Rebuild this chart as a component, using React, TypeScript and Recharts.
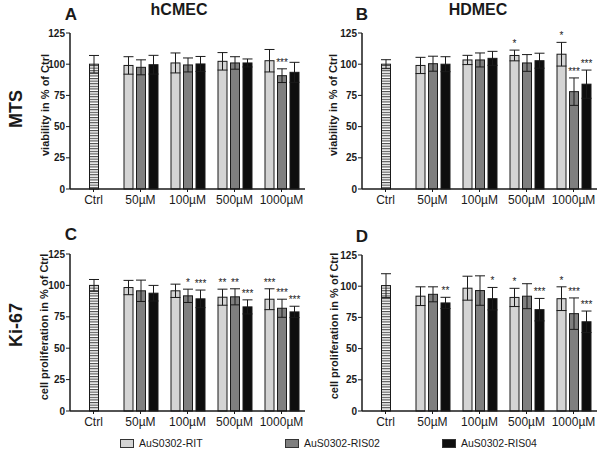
import React from 'react';
import { BarChart, Bar, XAxis, YAxis, ErrorBar, Cell } from 'recharts';

const categories = ['Ctrl', '50µM', '100µM', '500µM', '1000µM'];
const seriesNames = ['AuS0302-RIT', 'AuS0302-RIS02', 'AuS0302-RIS04'];
const seriesColors = ['#d4d4d4', '#7f7f7f', '#0e0e0e'];
const yTicks = [0, 25, 50, 75, 100, 125];

// A: hCMEC / MTS  (ctrl = [mean, sd])
const aCtrl = [100, 7];
const aRit = [99, 101, 102.3, 102.8];
const aRitErr = [7, 8, 7, 9];
const aRitSig = ['', '', '', ''];
const aRis02 = [97.5, 99.4, 101, 90.8];
const aRis02Err = [6, 5.6, 5, 5.5];
const aRis02Sig = ['', '', '', '***'];
const aRis04 = [99.6, 100.2, 101, 93.5];
const aRis04Err = [7.5, 6, 3.2, 8];
const aRis04Sig = ['', '', '', ''];

// B: HDMEC / MTS
const bCtrl = [100, 3.6];
const bRit = [99, 103.4, 107, 108];
const bRitErr = [6.5, 3.7, 4.3, 9.5];
const bRitSig = ['', '', '*', '*'];
const bRis02 = [100.4, 103.4, 101, 78];
const bRis02Err = [6, 5.6, 6.7, 11];
const bRis02Sig = ['', '', '', '***'];
const bRis04 = [100, 104.7, 102.8, 84];
const bRis04Err = [6, 5.6, 6, 11.3];
const bRis04Sig = ['', '', '', '***'];

// C: hCMEC / Ki-67
const cCtrl = [100, 4.7];
const cRit = [98.3, 95.7, 90.6, 89];
const cRitErr = [5.7, 5.3, 6.4, 8.3];
const cRitSig = ['', '', '**', '***'];
const cRis02 = [95.7, 91.7, 90.9, 81.8];
const cRis02Err = [8.5, 5.3, 6.4, 7.2];
const cRis02Sig = ['', '*', '**', '***'];
const cRis04 = [93.8, 89.3, 82.9, 78.9];
const cRis04Err = [6.2, 7, 5.6, 4.5];
const cRis04Sig = ['', '***', '***', '***'];

// D: HDMEC / Ki-67
const dCtrl = [100.5, 9.5];
const dRit = [92, 98.4, 91, 90];
const dRitErr = [7.5, 9.6, 7.3, 9.5];
const dRitSig = ['', '', '*', '*'];
const dRis02 = [93.5, 96.5, 92, 78];
const dRis02Err = [6, 11.8, 10, 12.6];
const dRis02Sig = ['', '', '', '***'];
const dRis04 = [86.6, 90, 81.2, 71.5];
const dRis04Err = [4.5, 9, 9, 8.6];
const dRis04Sig = ['**', '*', '***', '***'];

const ink = '#1a1a1a';
const font = '"Liberation Sans", Arial, sans-serif';

// ctrl goes into the middle series so it sits centred on its category
function buildRows(ctrl: number[], means: number[][], errs: number[][], sigs: string[][]) {
  return categories.map((cat, i) => {
    const row: any = { cat };
    for (let s = 0; s < 3; s++) {
      if (i === 0) {
        row['v' + s] = s === 1 ? ctrl[0] : null;
        row['e' + s] = s === 1 ? ctrl[1] : null;
        row['s' + s] = '';
      } else {
        row['v' + s] = means[s][i - 1];
        row['e' + s] = errs[s][i - 1];
        row['s' + s] = sigs[s][i - 1];
      }
    }
    return row;
  });
}

const rowsA = buildRows(aCtrl, [aRit, aRis02, aRis04], [aRitErr, aRis02Err, aRis04Err], [aRitSig, aRis02Sig, aRis04Sig]);
const rowsB = buildRows(bCtrl, [bRit, bRis02, bRis04], [bRitErr, bRis02Err, bRis04Err], [bRitSig, bRis02Sig, bRis04Sig]);
const rowsC = buildRows(cCtrl, [cRit, cRis02, cRis04], [cRitErr, cRis02Err, cRis04Err], [cRitSig, cRis02Sig, cRis04Sig]);
const rowsD = buildRows(dCtrl, [dRit, dRis02, dRis04], [dRitErr, dRis02Err, dRis04Err], [dRitSig, dRis02Sig, dRis04Sig]);

const makeShape = (s: number) => (p: any) => {
  const { x, y, width, height, fill, payload } = p;
  const v = payload ? payload['v' + s] : null;
  if (v == null || !height) return null;
  const ppu = height / v;
  const errTop = y - (payload['e' + s] || 0) * ppu;
  const sig = payload['s' + s];
  return (
    <g>
      <rect x={x} y={y} width={width} height={height} fill={fill} stroke={ink} strokeWidth={1} />
      {sig ? (
        <text x={x + width / 2} y={errTop - 3} textAnchor="middle" fontSize={10} fill={ink} fontFamily={font}>
          {sig}
        </text>
      ) : null}
    </g>
  );
};

function Panel({ id, left, top, height, marginTop, rows }: any) {
  return (
    <div style={{ position: 'absolute', left, top }}>
      <BarChart
        width={310}
        height={height}
        data={rows}
        margin={{ top: marginTop, right: 5, bottom: 1, left: 0 }}
        barSize={9}
        barGap={3.5}
      >
        <defs>
          <pattern id={'stripes' + id} width={4} height={2.6} patternUnits="userSpaceOnUse">
            <rect width={4} height={2.6} fill="#fff" />
            <line x1={0} y1={0.6} x2={4} y2={0.6} stroke="#333" strokeWidth={1} />
          </pattern>
        </defs>
        <XAxis
          dataKey="cat"
          interval={0}
          height={20}
          tickSize={3}
          tickMargin={3}
          axisLine={{ stroke: ink, strokeWidth: 1.5 }}
          tickLine={{ stroke: ink }}
          tick={{ fill: ink, fontSize: 12, fontFamily: font }}
        />
        <YAxis
          width={70}
          domain={[0, 125]}
          ticks={yTicks}
          tickSize={4}
          tickMargin={1}
          axisLine={{ stroke: ink, strokeWidth: 1.5 }}
          tickLine={{ stroke: ink }}
          tick={{ fill: ink, fontSize: 10, fontWeight: 700, fontFamily: font }}
        />
        {[0, 1, 2].map((s) => (
          <Bar key={s} dataKey={'v' + s} name={seriesNames[s]} fill={seriesColors[s]} isAnimationActive={false} shape={makeShape(s)}>
            {s === 1 &&
              rows.map((r: any, i: number) => (
                <Cell key={i} fill={i === 0 ? `url(#stripes${id})` : seriesColors[1]} />
              ))}
            <ErrorBar dataKey={'e' + s} width={5} stroke={ink} strokeWidth={1} direction="y" />
          </Bar>
        ))}
      </BarChart>
    </div>
  );
}

function Txt({ x, y, size, bold, rotate, children }: any) {
  return (
    <div
      style={{
        position: 'absolute',
        left: x,
        top: y,
        transform: `translate(-50%, -50%) rotate(${rotate || 0}deg)`,
        fontSize: size,
        fontWeight: bold ? 700 : 400,
        whiteSpace: 'nowrap',
        lineHeight: 1,
        color: ink,
      }}
    >
      {children}
    </div>
  );
}

const legendSquareX = [120, 285, 442];

export default function App() {
  return (
    <div style={{ position: 'absolute', left: 0, top: 0, width: 600, height: 449, background: '#fff', fontFamily: font, overflow: 'hidden' }}>
      <Panel id="A" left={0} top={0} height={210} marginTop={33} rows={rowsA} />
      <Panel id="B" left={292} top={0} height={210} marginTop={33} rows={rowsB} />
      <Panel id="C" left={0} top={220} height={212} marginTop={34} rows={rowsC} />
      <Panel id="D" left={292} top={220} height={212} marginTop={35} rows={rowsD} />

      <Txt x={71} y={14} size={17} bold>A</Txt>
      <Txt x={179} y={10} size={16} bold>hCMEC</Txt>
      <Txt x={362} y={14} size={17} bold>B</Txt>
      <Txt x={478} y={10} size={16} bold>HDMEC</Txt>
      <Txt x={71} y={234} size={17} bold>C</Txt>
      <Txt x={362} y={236} size={17} bold>D</Txt>

      <Txt x={16} y={109} size={18} bold rotate={-90}>MTS</Txt>
      <Txt x={16} y={325} size={18} bold rotate={-90}>Ki-67</Txt>

      <Txt x={45} y={105} size={11} bold rotate={-90}>viability in % of Ctrl</Txt>
      <Txt x={333} y={105} size={11} bold rotate={-90}>viability in % of Ctrl</Txt>
      <Txt x={44} y={327} size={11} bold rotate={-90}>cell proliferation in % of Ctrl</Txt>
      <Txt x={334} y={326} size={11} bold rotate={-90}>cell proliferation in % of Ctrl</Txt>

      {seriesNames.map((n, i) => (
        <div key={n} style={{ position: 'absolute', left: legendSquareX[i], top: 436, height: 14, display: 'flex', alignItems: 'center' }}>
          <div style={{ width: 12, height: 7, background: seriesColors[i], border: '1px solid #333' }} />
          <span style={{ marginLeft: 5, fontSize: 10.5, color: ink }}>{n}</span>
        </div>
      ))}
    </div>
  );
}
